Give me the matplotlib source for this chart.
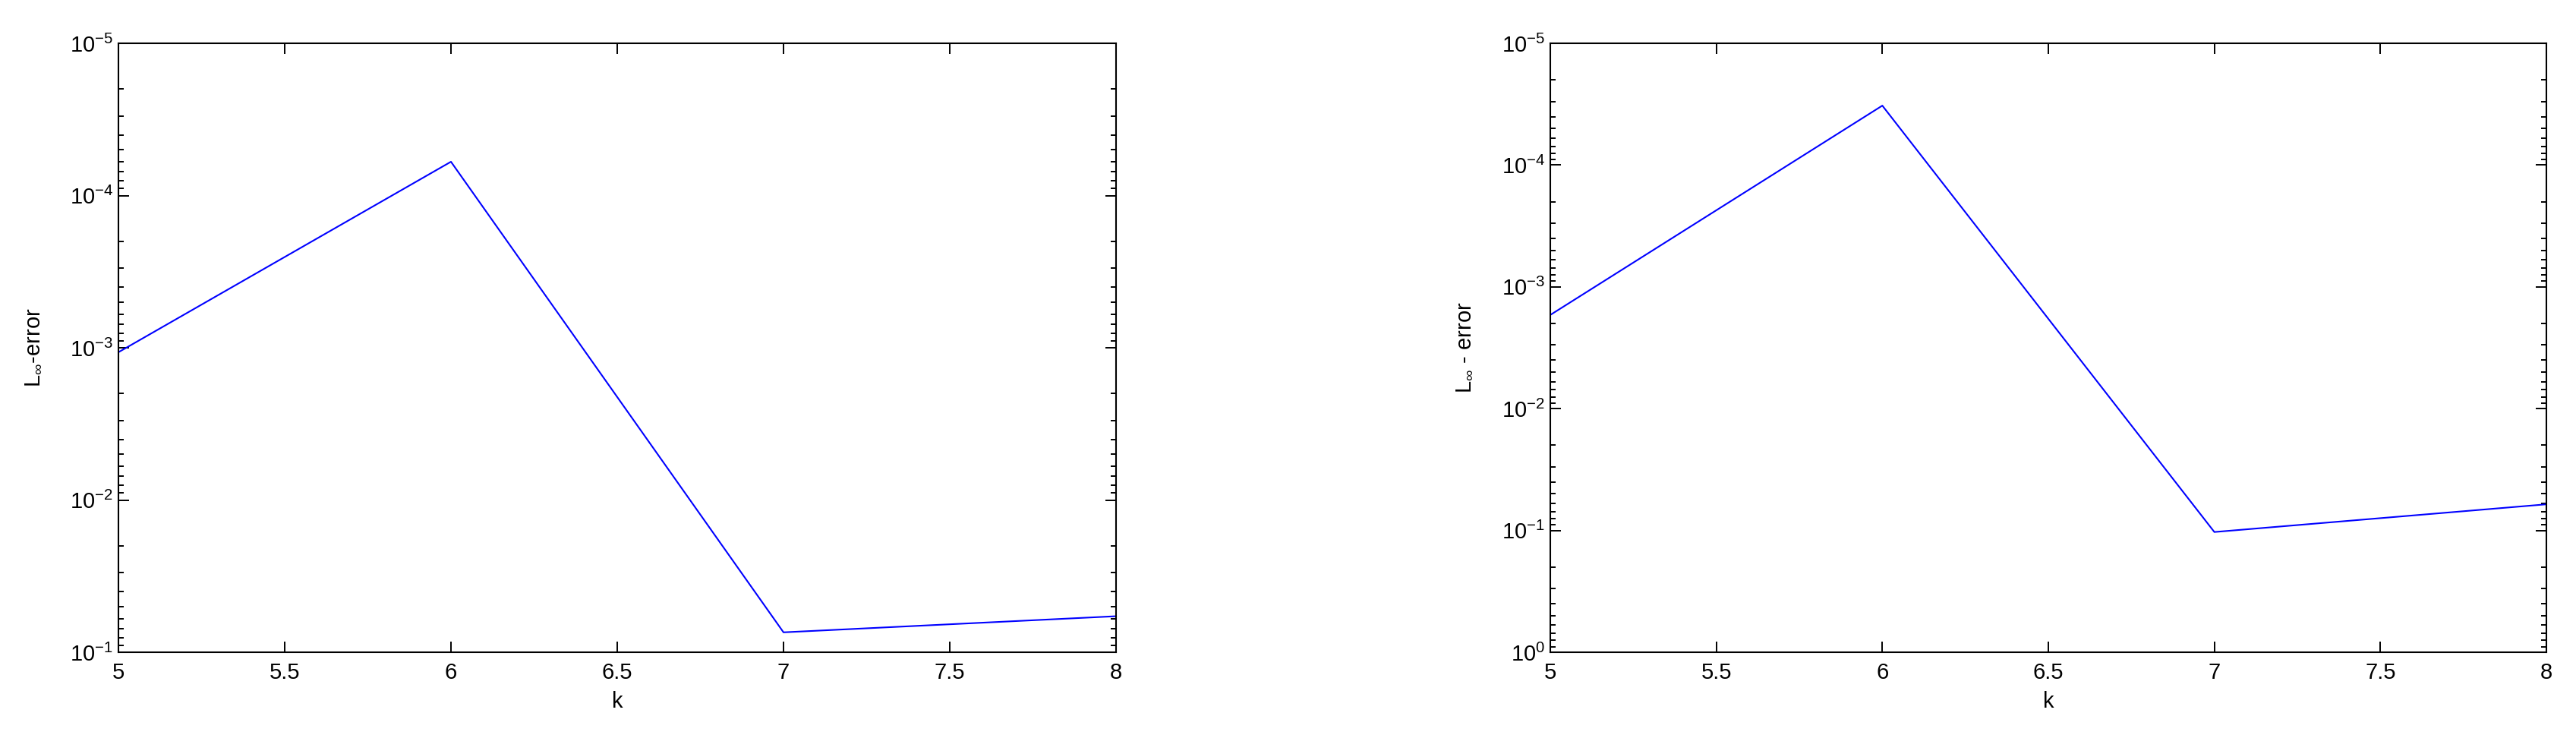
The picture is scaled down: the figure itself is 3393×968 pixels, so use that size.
import matplotlib
matplotlib.use("Agg")
import matplotlib.pyplot as plt
from matplotlib.ticker import LogLocator, NullFormatter

plt.rcParams['font.family'] = ['Liberation Sans', 'DejaVu Sans']
plt.rcParams['mathtext.fontset'] = 'custom'
plt.rcParams['mathtext.rm'] = 'Liberation Sans'
plt.rcParams['mathtext.it'] = 'Liberation Sans:italic'
plt.rcParams['mathtext.bf'] = 'Liberation Sans:bold'

# data
k = [5, 6, 7, 8]
err_left = [1.07e-3, 6.0e-5, 7.4e-2, 5.8e-2]
err_right = [1.70e-3, 3.25e-5, 1.03e-1, 6.1e-2]
x_ticks = [5, 5.5, 6, 6.5, 7, 7.5, 8]
x_ticklabels = ['5', '5.5', '6', '6.5', '7', '7.5', '8']
ylim_left = (1e-1, 1e-5)
ylim_right = (1e0, 1e-5)
ylabel_left = r'L$_{\infty}$-error'
ylabel_right = r'L$_{\infty}$ - error'
xlabel = 'k'

W, H = 3393, 968
fig = plt.figure(figsize=(W / 100, H / 100), dpi=100)

fs = 21


def setup(ax, ylim, ylabel, labx):
    ax.set_yscale('log')
    ax.set_xlim(5, 8)
    ax.set_ylim(*ylim)
    ax.set_xticks(x_ticks)
    ax.set_xticklabels(x_ticklabels)
    ax.yaxis.set_major_locator(LogLocator(base=10, numticks=20))
    ax.yaxis.set_minor_locator(LogLocator(base=10, subs=range(2, 10), numticks=20))
    ax.yaxis.set_minor_formatter(NullFormatter())
    for s in ax.spines.values():
        s.set_linewidth(1.5)
    ax.tick_params(axis='both', which='major', direction='in', length=10,
                   width=1.4, top=True, right=True, labelsize=fs)
    ax.tick_params(axis='y', which='minor', direction='in', length=5,
                   width=1.4, left=True, right=True)
    ax.tick_params(axis='x', which='major', pad=9)
    ax.tick_params(axis='y', which='major', pad=5)
    ax.set_xlabel(xlabel, fontsize=fs)
    ax.set_ylabel(ylabel, fontsize=fs)
    ax.xaxis.set_label_coords(0.5, -0.064)
    ax.yaxis.set_label_coords(labx, 0.5)


bottom = (H - 859) / H
height = 802 / H
ax1 = fig.add_axes([156 / W, bottom, 1314 / W, height])
ax2 = fig.add_axes([2042 / W, bottom, 1312 / W, height])

ax1.plot(k, err_left, color=(0, 0, 1), linewidth=1.5)
ax2.plot(k, err_right, color=(0, 0, 1), linewidth=1.5)

setup(ax1, ylim_left, ylabel_left, -0.075)
setup(ax2, ylim_right, ylabel_right, -0.076)

fig.savefig('out.png', dpi=100, facecolor='white')
